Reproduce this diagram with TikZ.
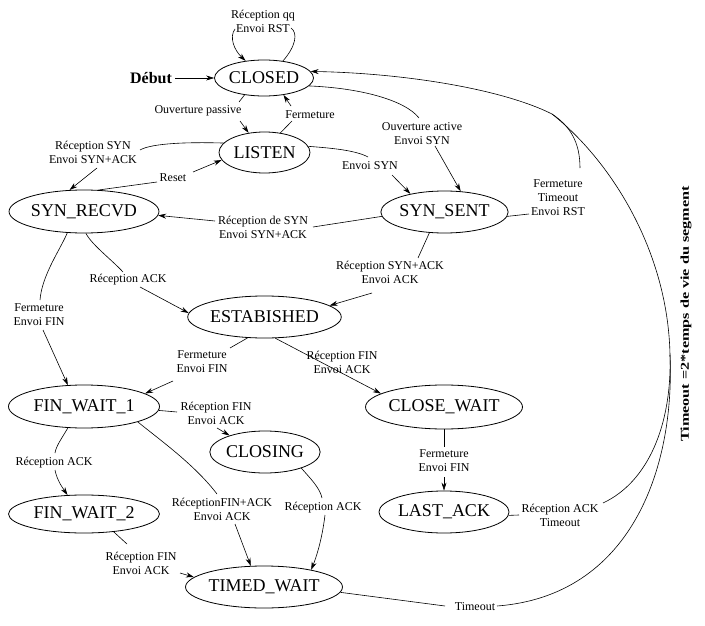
\documentclass[tikz,border=0pt]{standalone}
\usepackage{fontspec}
\usepackage{graphicx}
\setmainfont{Liberation Serif}
\usetikzlibrary{shapes.geometric,arrows.meta}
\newcommand{\lblfont}{\fontsize{12}{14}\selectfont}
\begin{document}
\begin{tikzpicture}[x=1pt,y=-1pt,
  state/.style={ellipse,draw,line width=0.8pt,inner sep=0pt,font=\fontsize{18}{20}\selectfont},
  lbl/.style={align=center,inner sep=1pt,font=\lblfont},
  edge/.style={line width=0.6pt},
  arr/.style={edge,-{Stealth[length=8pt,width=5pt]}}]
\useasboundingbox (0,0) rectangle (705,626);
% states
\node[state,minimum width=90pt,minimum height=36pt] (closed) at (264,78) {CLOSED};
\node[state,minimum width=91pt,minimum height=41pt] (listen) at (264.5,152.5) {LISTEN};
\node[state,minimum width=118pt,minimum height=43pt] (synr) at (84,211.5) {SYN\_RECVD};
\node[state,minimum width=107pt,minimum height=42pt] (syns) at (444.5,212) {SYN\_SENT};
\node[state,minimum width=151pt,minimum height=42pt] (estab) at (264.5,317) {ESTABISHED};
\node[state,minimum width=151pt,minimum height=43pt] (fw1) at (84,406.5) {FIN\_WAIT\_1};
\node[state,minimum width=150pt,minimum height=44pt] (cw) at (444,407) {CLOSE\_WAIT};
\node[state,minimum width=92pt,minimum height=42pt] (closing) at (265,452) {CLOSING};
\node[state,minimum width=151pt,minimum height=38pt] (fw2) at (84,514) {FIN\_WAIT\_2};
\node[state,minimum width=120pt,minimum height=42pt] (la) at (444,512) {LAST\_ACK};
\node[state,minimum width=150pt,minimum height=42pt] (tw) at (264,587) {TIMED\_WAIT};
% start
\node[font=\fontsize{16}{18}\selectfont\bfseries] (debut) at (151,78) {Début};
\draw[arr] (debut.east) -- (closed.west);
% labels
\node[lbl] (lq) at (263,21) {Réception qq\\Envoi RST};
\node[lbl] (lop) at (198,111) {Ouverture passive};
\node[lbl] (lfe) at (310,115) {Fermeture};
\node[lbl] (loa) at (422,134) {Ouverture active\\Envoi SYN};
\node[lbl] (les) at (370,166) {Envoi SYN};
\node[lbl] (lrs) at (93,152) {Réception SYN\\Envoi SYN+ACK};
\node[lbl] (lre) at (173,178) {Reset};
\node[lbl] (lrds) at (263,227.5) {Réception de SYN\\Envoi SYN+ACK};
\node[lbl] (lft) at (558,198) {Fermeture\\Timeout\\Envoi RST};
\node[lbl] (lrsa) at (390,272) {Réception SYN+ACK\\Envoi ACK};
\node[lbl] (lra) at (128,280) {Réception ACK};
\node[lbl] (lfef1) at (39,314.5) {Fermeture\\Envoi FIN};
\node[lbl] (lfef2) at (202,362) {Fermeture\\Envoi FIN};
\node[lbl] (lrf1) at (342,362) {Réception FIN\\Envoi ACK};
\node[lbl] (lrf2) at (216,413) {Réception FIN\\Envoi ACK};
\node[lbl] (lra2) at (54,463) {Réception ACK};
\node[lbl] (lrfa) at (222,509) {RéceptionFIN+ACK\\Envoi ACK};
\node[lbl] (lra3) at (323,508) {Réception ACK};
\node[lbl] (lrf3) at (141,563) {Réception FIN\\Envoi ACK};
\node[lbl] (lfef3) at (444,461) {Fermeture\\Envoi FIN};
\node[lbl] (lrat) at (560,515) {Réception ACK\\Timeout};
\node[lbl] (lto) at (475,607) {Timeout};
\node[font=\fontsize{12}{14}\selectfont\bfseries,rotate=90] (note) at (686,314) {\scalebox{1.35}[1]{Timeout =2*temps de vie du segment}};
% label-side points
\coordinate (lqR) at (291,28); \coordinate (lqL) at (235,29);
\coordinate (op1) at (239,102); \coordinate (op2) at (240,121);
\coordinate (fe1) at (292,121); \coordinate (fe2) at (291,106);
\coordinate (oa1) at (419,118); \coordinate (oa2) at (435,146);
\coordinate (es1) at (368,157); \coordinate (es2) at (392,175);
\coordinate (rs1) at (140,150); \coordinate (rs2) at (97,168);
\coordinate (re1) at (157,182); \coordinate (re2) at (193,172);
\coordinate (rds1) at (215,221); \coordinate (rds2) at (313,227);
\coordinate (ft1) at (529,214); \coordinate (ft2) at (580,168);
\coordinate (rsa1) at (418,258); \coordinate (rsa2) at (372,293);
\coordinate (ra1) at (123,272); \coordinate (ra2) at (140,287);
\coordinate (f11) at (40,300); \coordinate (f12) at (43,330);
\coordinate (f21) at (230,348); \coordinate (f22) at (173,381);
\coordinate (rf21) at (177,412); \coordinate (rf22) at (217,428);
\coordinate (ra21) at (55,453); \coordinate (ra22) at (55,470);
\coordinate (rfa1) at (217,494); \coordinate (rfa2) at (235,524);
\coordinate (ra31) at (322,498); \coordinate (ra32) at (325,515);
\coordinate (rf31) at (127,544); \coordinate (rf32) at (180,573);
\coordinate (f31) at (444,447); \coordinate (f32) at (444,477);
\coordinate (rat1) at (519,515); \coordinate (rat2) at (603,503);
\coordinate (to1) at (445,606); \coordinate (to2) at (497,606);
\coordinate (j1) at (552,114); \coordinate (j2) at (670,355);
% edges
\draw[edge] (closed.42) .. controls (296,46) and (298,33) .. (lqR);
\draw[arr] (lqL) .. controls (229,37) and (234,50) .. (closed.137);
\draw[edge] (closed.221) -- (op1);
\draw[arr] (op2) -- (listen.129);
\draw[edge] (listen.51) -- (fe1);
\draw[arr] (fe2) -- (closed.319);
\draw[edge] (closed.350) .. controls (360,88) and (405,100) .. (oa1);
\draw[arr] (oa2) -- (syns.52);
\draw[edge] (listen.8) .. controls (330,148) and (355,150) .. (es1);
\draw[arr] (es2) -- (syns.152);
\draw[edge] (listen.167) .. controls (190,142) and (152,143) .. (rs1);
\draw[arr] (rs2) -- (synr.124);
\draw[edge] (synr.56) -- (re1);
\draw[arr] (re2) -- (listen.190);
\draw[arr] (rds1) -- (synr.357);
\draw[edge] (syns.184) -- (rds2);
\draw[edge] (syns.356) -- (ft1);
\draw[arr] (j1) .. controls (500,88) and (400,73) .. (closed.8);
\draw[edge] (ft2) .. controls (580,142) and (570,126) .. (j1);
\draw[edge] (j2) .. controls (668,250) and (610,160) .. (j1);
\draw[edge] (syns.234) -- (rsa1);
\draw[arr] (rsa2) -- (estab.10);
\draw[edge] (synr.275) .. controls (92,245) and (112,260) .. (ra1);
\draw[arr] (ra2) -- (estab.177);
\draw[edge] (synr.232) .. controls (60,250) and (42,275) .. (f11);
\draw[arr] (f12) -- (fw1.127);
\draw[edge] (estab.231) -- (f21);
\draw[arr] (f22) -- (fw1.12);
\draw[arr] (estab.297) -- (cw.168);
\draw[edge] (fw1.357) -- (rf21);
\draw[arr] (rf22) -- (closing.155);
\draw[edge] (fw1.233) .. controls (62,438) and (56,446) .. (ra21);
\draw[arr] (ra22) .. controls (57,480) and (62,487) .. (fw2.131);
\draw[edge] (fw1.344) .. controls (160,440) and (195,465) .. (rfa1);
\draw[arr] (rfa2) -- (tw.122);
\draw[edge] (closing.336) .. controls (310,478) and (320,488) .. (ra31);
\draw[arr] (ra32) .. controls (322,540) and (316,558) .. (tw.20);
\draw[edge] (fw2.329) -- (rf31);
\draw[arr] (rf32) -- (tw.172);
\draw[edge] (cw.270) -- (f31);
\draw[arr] (f32) -- (la.90);
\draw[edge] (la.357) -- (rat1);
\draw[edge] (rat2) .. controls (648,482) and (672,425) .. (j2);
\draw[edge] (tw.356) -- (to1);
\draw[edge] (to2) .. controls (630,596) and (675,470) .. (j2);
\end{tikzpicture}
\end{document}
